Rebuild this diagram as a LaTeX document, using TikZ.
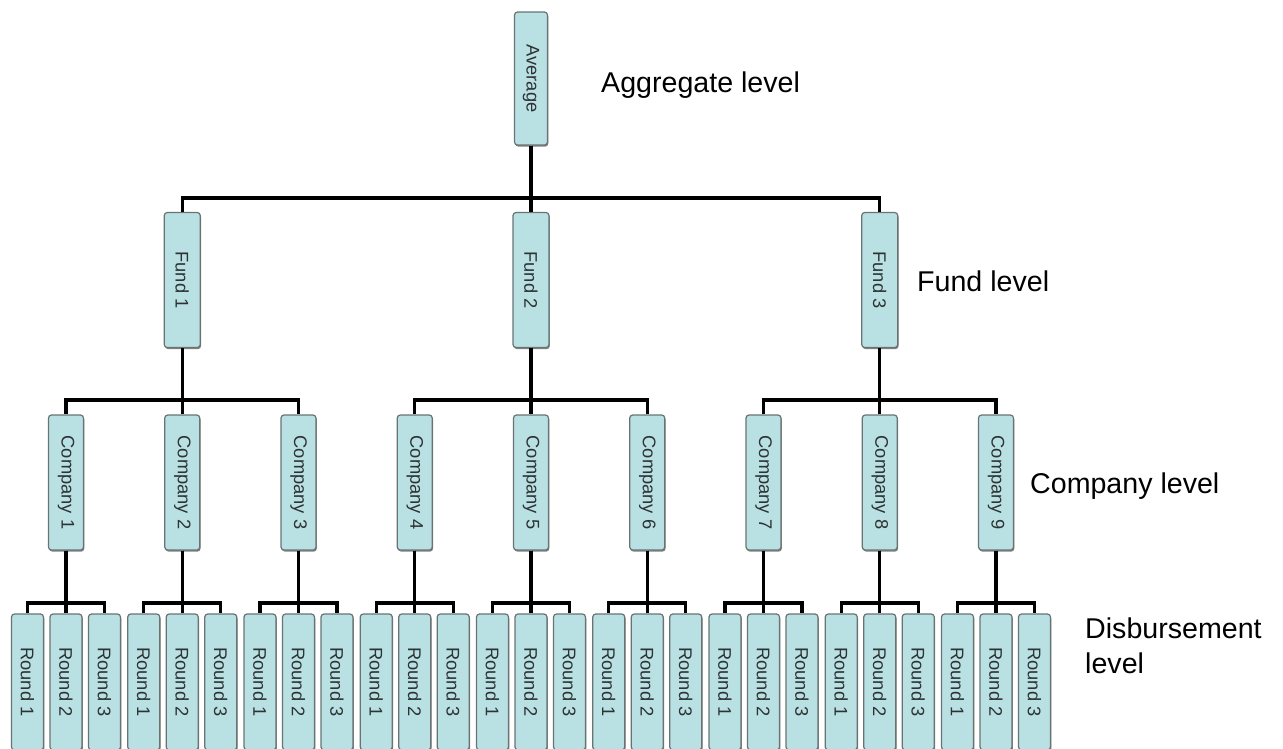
\documentclass[tikz,border=0pt]{standalone}
\usepackage{fontspec}
\setmainfont{Liberation Sans}
\usetikzlibrary{shadows}
\definecolor{boxfill}{RGB}{185,225,228}
\definecolor{boxline}{RGB}{105,115,115}
\definecolor{boxtext}{RGB}{45,50,50}
\tikzset{
  hbox/.style={draw=boxline, fill=boxfill, rounded corners=3pt, line width=1.2pt,
    inner sep=0pt, text=boxtext, font=\fontsize{18.3}{20}\selectfont,
    drop shadow={shadow xshift=0.8pt, shadow yshift=-1.6pt, fill=black!50, opacity=1}},
  conn/.style={line width=3.4pt, black},
  lvl/.style={font=\fontsize{28.6}{35}\selectfont, anchor=base west, align=left, inner sep=0pt, text=black}
}
\begin{document}
\begin{tikzpicture}[x=1pt,y=-1pt]
\useasboundingbox (0,0) rectangle (1283,748);
% aggregate
\node[hbox, minimum width=33pt, minimum height=133pt] (avg) at (531,78.5) {\rotatebox{-90}{Average}};
% funds
\foreach \i/\x in {1/182.25,2/531,3/879.75}
  \node[hbox, minimum width=36pt, minimum height=135pt] (f\i) at (\x,280) {\rotatebox{-90}{Fund \i}};
% companies
\foreach \i in {1,...,9}{
  \pgfmathsetmacro\cx{66+116.25*(\i-1)}
  \node[hbox, minimum width=35pt, minimum height=135pt] (c\i) at (\cx,482.5) {\rotatebox{-90}{Company \i}};
}
% rounds
\foreach \i in {1,...,9}{
  \foreach \r in {1,2,3}{
    \pgfmathsetmacro\rx{66+116.25*(\i-1)+38.5*(\r-2)}
    \node[hbox, minimum width=32pt, minimum height=136pt] (r\i-\r) at (\rx,682) {\rotatebox{-90}{Round \r}};
  }
}
% connectors
\foreach \i in {1,2,3}
  \draw[conn] (avg.south) |- (f\i.north |- 0,198) -- (f\i.north);
\foreach \f/\a/\b/\c in {1/1/2/3,2/4/5/6,3/7/8/9}
  \foreach \k in {\a,\b,\c}
    \draw[conn] (f\f.south) |- (c\k.north |- 0,400) -- (c\k.north);
\foreach \i in {1,...,9}
  \foreach \r in {1,2,3}
    \draw[conn] (c\i.south) |- (r\i-\r.north |- 0,603) -- (r\i-\r.north);
% level labels
\node[lvl] (lagg) at (601,92) {Aggregate level};
\node[lvl] (lfund) at (917,291) {Fund level};
\node[lvl] (lcomp) at (1030,493) {Company level};
\node[lvl] (ldis) at (1085,673) {Disbursement\\level};
\end{tikzpicture}
\end{document}
